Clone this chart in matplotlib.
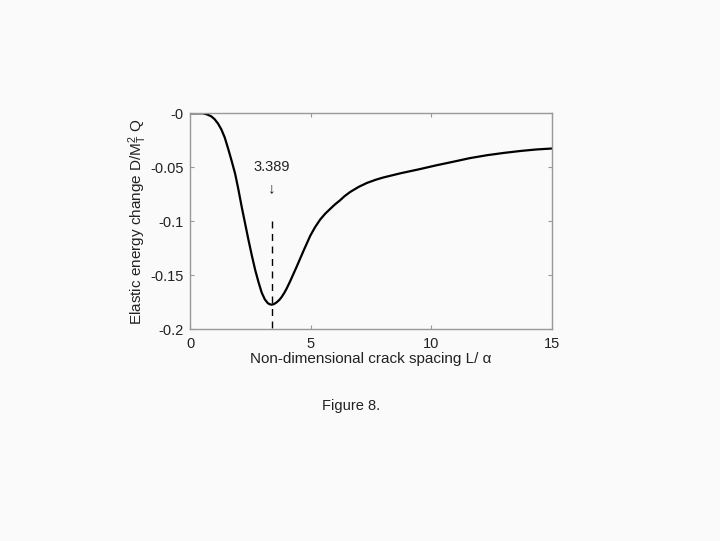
import matplotlib.pyplot as plt

plt.rcParams['font.family'] = ['Liberation Sans', 'DejaVu Sans']
plt.rcParams['mathtext.fontset'] = 'custom'
plt.rcParams['mathtext.rm'] = 'Liberation Sans'
plt.rcParams['mathtext.it'] = 'Liberation Sans'

# values
spacing = [0, 0.3, 0.54, 0.7, 0.88, 1.02, 1.16, 1.3, 1.44, 1.59, 1.73, 1.87, 2.0,
           2.14, 2.28, 2.42, 2.56, 2.70, 2.84, 2.97, 3.1, 3.22, 3.3, 3.389, 3.48,
           3.58, 3.7, 3.8, 3.9, 4.0, 4.15, 4.42, 4.70, 4.98, 5.18, 5.39, 5.6, 5.81,
           6.0, 6.22, 6.4, 6.64, 7.0, 7.33, 7.7, 8.0, 8.71, 9.5, 10.2, 10.92, 11.6,
           12.31, 13.0, 13.69, 14.35, 15]
energy = [0, 0, 0, -0.0010, -0.0028, -0.0055, -0.0095, -0.0150, -0.0225, -0.0335,
          -0.0445, -0.0560, -0.0700, -0.0864, -0.1017, -0.1170, -0.1315, -0.1450,
          -0.1565, -0.1660, -0.1723, -0.1757, -0.1768, -0.1772, -0.1766, -0.1752,
          -0.1728, -0.1700, -0.1665, -0.1625, -0.1555, -0.1420, -0.1275, -0.1135,
          -0.1055, -0.0985, -0.0930, -0.0885, -0.0845, -0.0805, -0.0768, -0.0728,
          -0.0680, -0.0645, -0.0615, -0.0595, -0.0556, -0.0518, -0.0482, -0.0448,
          -0.0415, -0.0388, -0.0367, -0.0349, -0.0335, -0.0326]
x_min = 3.389
xticks = [0, 5, 10, 15]
yticks = [0, -0.05, -0.1, -0.15, -0.2]
ytick_labels = ['-0', '-0.05', '-0.1', '-0.15', '-0.2']

fig = plt.figure(figsize=(7.2, 5.41), dpi=100)
fig.patch.set_facecolor('#fafafa')
ax = fig.add_axes([0.2639, 0.3913, 0.5028, 0.3993])
ax.set_facecolor('#fafafa')

ax.plot(spacing, energy, color='black', lw=1.6)
ax.plot([x_min, x_min], [-0.1, -0.2], color='black', lw=1.0, ls=(0, (5, 4)))
ax.text(x_min, -0.05, '3.389', ha='center', va='center', fontsize=10.5, color='#222222')
ax.text(x_min, -0.069, '\u2193', ha='center', va='center', fontsize=11, color='#222222')

ax.set_xlim(0, 15)
ax.set_ylim(-0.2, 0)
ax.set_xticks(xticks)
ax.set_yticks(yticks)
ax.set_yticklabels(ytick_labels)
ax.tick_params(direction='in', length=3, color='#999999', labelsize=10.5,
               labelcolor='#222222', top=True, right=True)
ax.tick_params(axis='x', pad=5.5)
ax.tick_params(axis='y', pad=4.5)
for s in ax.spines.values():
    s.set_color('#999999')
    s.set_linewidth(1.0)

ax.set_xlabel('Non-dimensional crack spacing L/ \u03b1', fontsize=11, color='#222222', labelpad=1)
ax.set_ylabel('Elastic energy change D/M$_\\mathrm{T}^\\mathrm{2}$ Q', fontsize=11,
              color='#222222', labelpad=1)

fig.text(0.488, 0.249, 'Figure 8.', ha='center', va='center', fontsize=10.5, color='#222222')

fig.savefig('out.png', dpi=100, facecolor=fig.get_facecolor())
